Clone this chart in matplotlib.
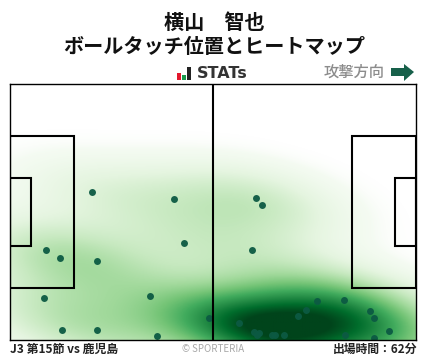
import matplotlib
matplotlib.use('Agg')
import matplotlib.pyplot as plt
import numpy as np
from matplotlib.patches import Rectangle, Polygon

plt.rcParams['font.family'] = ['Noto Sans CJK JP', 'DejaVu Sans']

title = '横山　智也'
subtitle = 'ボールタッチ位置とヒートマップ'
match_label = 'J3 第15節 vs 鹿児島'
time_label = '出場時間：62分'

# touch positions, metres on a 105x68 pitch (attacking to the right)
touch_x = [21.2, 42.4, 45.0, 9.3, 12.9, 22.4, 8.7, 36.1, 13.4, 22.4, 38.0, 51.4,
           63.6, 65.1, 62.5, 79.4, 86.3, 93.1, 94.1, 98.0, 94.1, 86.6, 76.5, 74.4,
           59.2, 63.1, 63.9, 64.4, 67.7, 68.5, 70.8]
touch_y = [39.4, 37.5, 25.8, 24.0, 21.8, 21.0, 11.2, 11.7, 2.7, 2.7, 1.1, 5.9,
           37.8, 35.9, 24.0, 10.4, 10.7, 7.8, 5.9, 2.4, 0.6, 1.4, 8.0, 6.4,
           4.6, 2.2, 1.4, 1.9, 1.4, 1.4, 1.4]

fig = plt.figure(figsize=(4.28, 3.59), dpi=100)
W, H = 428, 359

ax = fig.add_axes([10 / W, 1 - 340 / H, 406 / W, 256 / H])

# gaussian kde of the touches, scott bandwidth
pts = np.array([touch_x, touch_y])
cov = np.cov(pts) * len(touch_x) ** (-1 / 3)
inv = np.linalg.inv(cov)
gx, gy = np.meshgrid(np.linspace(0, 105, 420), np.linspace(0, 68, 272))
dens = np.zeros_like(gx)
for px, py in pts.T:
    dx, dy = gx - px, gy - py
    dens += np.exp(-0.5 * (inv[0, 0] * dx * dx + 2 * inv[0, 1] * dx * dy + inv[1, 1] * dy * dy))
dens = dens / dens.max()

# fade the low end to white so the edge of the heat stays soft
rgba = plt.get_cmap('Greens')(np.clip((dens - 0.02) / 0.90, 0, 1))
rgba[..., 3] = np.clip((dens - 0.008) / 0.03, 0, 1)
ax.imshow(rgba, origin='lower', extent=(0, 105, 0, 68), interpolation='bilinear',
          aspect='auto', zorder=1)

ax.scatter(touch_x, touch_y, s=25, color='#0c5a43', linewidths=0, alpha=0.95, zorder=3)

# pitch lines
lw = 1.5
ax.plot([52.5, 52.5], [0, 68], color='k', lw=lw, zorder=5)
for x0, w in [(0, 16.5), (0, 5.5), (105 - 16.5, 16.5), (105 - 5.5, 5.5)]:
    h = 40.3 if w == 16.5 else 18.3
    ax.add_patch(Rectangle((x0, 34 - h / 2), w, h, fill=False, ec='k', lw=lw, zorder=5))
ax.set_xlim(0, 105)
ax.set_ylim(0, 68)
ax.set_xticks([])
ax.set_yticks([])
for s in ax.spines.values():
    s.set_linewidth(1.0)
    s.set_zorder(6)

# overlay in pixel coordinates for header and footer
top = fig.add_axes([0, 0, 1, 1], zorder=-1)
top.set_xlim(0, W)
top.set_ylim(H, 0)
top.axis('off')
top.text(214, 22, title, ha='center', va='center', fontsize=14.5, fontweight='bold', color='#111111')
top.text(214, 46.5, subtitle, ha='center', va='center', fontsize=14.5, fontweight='bold', color='#111111')
top.text(196.5, 73.5, 'STATs', ha='left', va='center', fontsize=11.5, fontweight='bold', color='#333333', family='DejaVu Sans')
top.add_patch(Rectangle((177, 73), 4, 7, color='#e3172d', lw=0))
top.add_patch(Rectangle((182, 75), 4, 5, color='#1a9a4b', lw=0))
top.add_patch(Rectangle((187, 67), 4, 13, color='#222222', lw=0))
top.text(385, 72, '攻撃方向', ha='right', va='center', fontsize=11, fontweight='medium', color='#8c8c8c')
top.add_patch(Polygon([(391, 68), (404, 68), (404, 64), (414, 72), (404, 81), (404, 76), (391, 76)],
                      closed=True, color='#17604a', lw=0))
top.text(10, 349.5, match_label, ha='left', va='center', fontsize=8.6, fontweight='bold', color='#222222')
top.text(213, 349, '© SPORTERIA', ha='center', va='center', fontsize=7, color='#a8a8a8')
top.text(417, 349.5, time_label, ha='right', va='center', fontsize=8.5, fontweight='bold', color='#222222')

fig.savefig('out.png', dpi=100)
